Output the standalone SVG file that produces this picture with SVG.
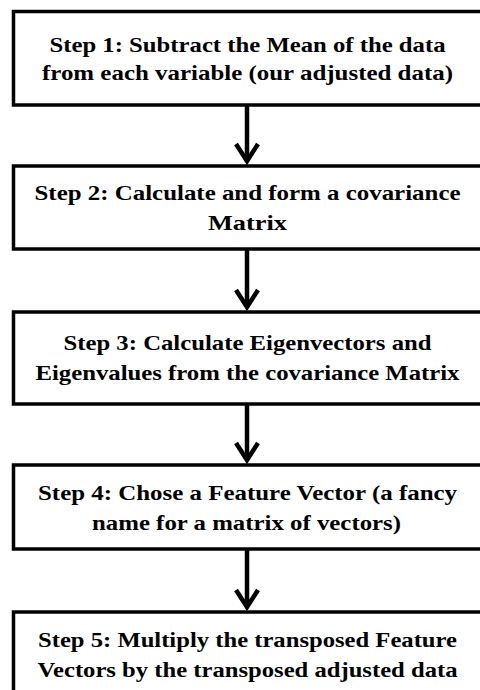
<svg xmlns="http://www.w3.org/2000/svg" width="480" height="690" viewBox="0 0 480 690">
<style>
.box{fill:#ffffff;stroke:#000000;stroke-width:3.5}
.lbl{font-weight:700;font-size:21px;fill:#000000}
.conn{stroke:#000000;stroke-width:4.5;fill:none}
</style>
<defs>
<marker id="chev" markerUnits="userSpaceOnUse" viewBox="-25 -20 30 40" refX="0" refY="0" markerWidth="30" markerHeight="40" orient="auto" overflow="visible">
<path d="M-17,-11 L0,0 L-17,11" fill="none" stroke="#000000" stroke-width="4.5" stroke-linejoin="miter"/>
</marker>
</defs>
<rect x="0" y="0" width="480" height="690" fill="#ffffff"/>
<g id="connectors">
<line class="conn" x1="247" y1="106" x2="247" y2="161" marker-end="url(#chev)"/>
<line class="conn" x1="247" y1="250" x2="247" y2="307" marker-end="url(#chev)"/>
<line class="conn" x1="247" y1="405" x2="247" y2="460" marker-end="url(#chev)"/>
<line class="conn" x1="247" y1="550" x2="247" y2="607" marker-end="url(#chev)"/>
</g>
<g font-family="Liberation Serif, Times New Roman, Times, serif">
<g id="step1">
<rect class="box" x="13.5" y="11.5" width="470" height="93.5"/>
<text class="lbl" x="49.5" y="52" textLength="396" lengthAdjust="spacingAndGlyphs">Step 1: Subtract the Mean of the data</text>
<text class="lbl" x="42" y="80" textLength="411" lengthAdjust="spacingAndGlyphs">from each variable (our adjusted data)</text>
</g>
<g id="step2">
<rect class="box" x="13.5" y="166" width="470" height="83"/>
<text class="lbl" x="34.5" y="200" textLength="426" lengthAdjust="spacingAndGlyphs">Step 2: Calculate and form a covariance</text>
<text class="lbl" x="208" y="230" textLength="79" lengthAdjust="spacingAndGlyphs">Matrix</text>
</g>
<g id="step3">
<rect class="box" x="13.5" y="312" width="470" height="92"/>
<text class="lbl" x="63.5" y="350" textLength="368" lengthAdjust="spacingAndGlyphs">Step 3: Calculate Eigenvectors and</text>
<text class="lbl" x="35.5" y="380" textLength="424" lengthAdjust="spacingAndGlyphs">Eigenvalues from the covariance Matrix</text>
</g>
<g id="step4">
<rect class="box" x="13.5" y="465" width="470" height="84"/>
<text class="lbl" x="38" y="500" textLength="419" lengthAdjust="spacingAndGlyphs">Step 4: Chose a Feature Vector (a fancy</text>
<text class="lbl" x="92" y="530" textLength="309" lengthAdjust="spacingAndGlyphs">name for a matrix of vectors)</text>
</g>
<g id="step5">
<rect class="box" x="13.5" y="612" width="470" height="100"/>
<text class="lbl" x="38" y="647" textLength="419" lengthAdjust="spacingAndGlyphs">Step 5: Multiply the transposed Feature</text>
<text class="lbl" x="37.5" y="677" textLength="420" lengthAdjust="spacingAndGlyphs">Vectors by the transposed adjusted data</text>
</g>
</g>
</svg>
